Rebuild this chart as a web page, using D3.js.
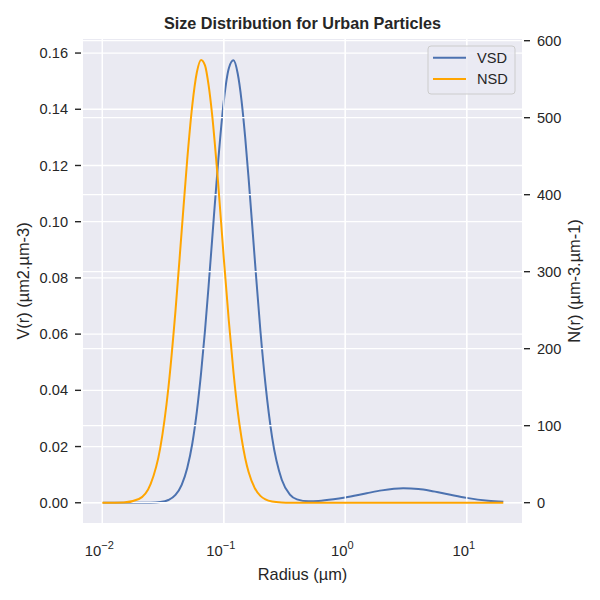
<!DOCTYPE html>
<html>
<head>
<meta charset="utf-8">
<script src="https://cdn.jsdelivr.net/npm/d3@7"></script>
<style>
  body { margin: 0; background: #fff; }
  text { font-family: Arial, "Liberation Sans", sans-serif; fill: #262626; }
</style>
</head>
<body>
<div id="chart"></div>
<script>
// radius (µm) samples and values
const radius = [0.01, 0.015, 0.02, 0.025, 0.03, 0.035, 0.04, 0.045, 0.05, 0.055,
  0.06, 0.065, 0.07, 0.075, 0.08, 0.09, 0.1, 0.11, 0.12, 0.13, 0.14, 0.15, 0.16,
  0.18, 0.2, 0.22, 0.25, 0.3, 0.35, 0.4, 0.5, 0.6, 0.8, 1, 1.5, 2, 3, 4, 5, 7, 10, 15, 20];
const vsd = [0, 0, 0.000003, 0.00004, 0.00025, 0.00098, 0.0028, 0.0064, 0.0124, 0.021,
  0.0325, 0.0462, 0.0613, 0.0773, 0.0932, 0.1218, 0.143, 0.1546, 0.1574, 0.1528, 0.143, 0.1299, 0.1154,
  0.0864, 0.0613, 0.0424, 0.0232, 0.0082, 0.0029, 0.0012, 0.0005, 0.00061, 0.00121, 0.00187, 0.00339, 0.00441, 0.00513, 0.00487, 0.00428, 0.00304, 0.00174, 0.00072, 0.00033];
const nsd = [0, 0.36, 4.8, 24.4, 71.5, 149.6, 249, 353, 446, 516,
  559, 575, 568, 542, 505, 413, 317, 236, 170, 119.6, 83.7, 57.8, 39.8,
  18.8, 8.8, 4.2, 1.4, 0.24, 0, 0, 0, 0, 0, 0, 0, 0, 0, 0, 0, 0, 0, 0, 0];
const xTicks = [0.01, 0.1, 1, 10];
const xTickExp = ["\u22122", "\u22121", "0", "1"];
const vTicks = [0, 0.02, 0.04, 0.06, 0.08, 0.1, 0.12, 0.14, 0.16];
const nTicks = [0, 100, 200, 300, 400, 500, 600];

const width = 600;
const height = 600;
const margin = { left: 83, right: 78, top: 39, bottom: 77 };
const bg = "#eaeaf2";
const blue = "#4c72b0";
const orange = "#ffa500";

let rows = radius.map((r, i) => ({ r: r, v: vsd[i], n: nsd[i] }));

let svg = d3.select("#chart").append("svg")
  .attr("width", width)
  .attr("height", height);

let xScale = d3.scaleLog()
  .domain([0.00693, 28.5])
  .range([margin.left, width - margin.right]);
let yLeft = d3.scaleLinear()
  .domain([-0.0072, 0.165])
  .range([height - margin.bottom, margin.top]);
let yRight = d3.scaleLinear()
  .domain([-26.4, 602.2])
  .range([height - margin.bottom, margin.top]);

const x0 = margin.left, x1 = width - margin.right;
const y0 = height - margin.bottom, y1 = margin.top;

svg.append("rect")
  .attr("x", x0).attr("y", y1)
  .attr("width", x1 - x0).attr("height", y0 - y1)
  .attr("fill", bg);

function grid(g, yScale, yTicks) {
  g.selectAll(".vg").data(xTicks).enter().append("line")
    .attr("x1", d => xScale(d)).attr("x2", d => xScale(d))
    .attr("y1", y0).attr("y2", y1);
  g.selectAll(".hg").data(yTicks).enter().append("line")
    .attr("x1", x0).attr("x2", x1)
    .attr("y1", d => yScale(d)).attr("y2", d => yScale(d));
  g.selectAll("line").attr("stroke", "#fff").attr("stroke-width", 1.3);
}

// left axes: grid then VSD
grid(svg.append("g"), yLeft, vTicks);
svg.append("path")
  .datum(rows)
  .attr("fill", "none")
  .attr("stroke", blue)
  .attr("stroke-width", 2)
  .attr("d", d3.line().curve(d3.curveMonotoneX)
    .x(d => xScale(d.r))
    .y(d => yLeft(d.v)));

// twin axes: its grid sits over the VSD line
grid(svg.append("g"), yRight, nTicks);
svg.append("path")
  .datum(rows)
  .attr("fill", "none")
  .attr("stroke", orange)
  .attr("stroke-width", 2)
  .attr("d", d3.line().curve(d3.curveMonotoneX)
    .x(d => xScale(d.r))
    .y(d => yRight(d.n)));

// left ticks
let lt = svg.append("g").selectAll("g").data(vTicks).enter().append("g")
  .attr("transform", d => `translate(0,${yLeft(d)})`);
lt.append("line").attr("x1", 75).attr("x2", 81)
  .attr("stroke", "#262626").attr("stroke-width", 1.4);
lt.append("text").attr("x", 68).attr("dy", "0.35em")
  .attr("text-anchor", "end").style("font-size", "14.6px")
  .text(d => d3.format(".2f")(d));

// right ticks
let rt = svg.append("g").selectAll("g").data(nTicks).enter().append("g")
  .attr("transform", d => `translate(0,${yRight(d)})`);
rt.append("line").attr("x1", 524).attr("x2", 530)
  .attr("stroke", "#262626").attr("stroke-width", 1.4);
rt.append("text").attr("x", 537).attr("dy", "0.35em")
  .attr("text-anchor", "start").style("font-size", "14.6px")
  .text(d => d);

// x tick labels 10^n
let xt = svg.append("g").selectAll("text").data(xTicks).enter().append("text")
  .attr("x", d => xScale(d) - 3)
  .attr("y", 556)
  .attr("text-anchor", "middle")
  .style("font-size", "14.8px");
xt.append("tspan").text("10");
xt.append("tspan").attr("dy", -7).style("font-size", "11px")
  .text((d, i) => xTickExp[i]);

// labels and title
svg.append("text")
  .attr("x", (x0 + x1) / 2).attr("y", 580)
  .attr("text-anchor", "middle").style("font-size", "16.4px")
  .text("Radius (µm)");
svg.append("text")
  .attr("transform", `translate(29,${(y0 + y1) / 2}) rotate(-90)`)
  .attr("text-anchor", "middle").style("font-size", "16.4px")
  .text("V(r) (µm2.µm-3)");
svg.append("text")
  .attr("transform", `translate(580,${(y0 + y1) / 2}) rotate(-90)`)
  .attr("text-anchor", "middle").style("font-size", "16.4px")
  .text("N(r) (µm-3.µm-1)");
svg.append("text")
  .attr("x", (x0 + x1) / 2).attr("y", 29)
  .attr("text-anchor", "middle").style("font-size", "16.2px")
  .style("font-weight", "bold")
  .text("Size Distribution for Urban Particles");

// legend
let legend = svg.append("g");
legend.append("rect")
  .attr("x", 428).attr("y", 46).attr("width", 87).attr("height", 48)
  .attr("rx", 3)
  .attr("fill", bg).attr("fill-opacity", 0.8)
  .attr("stroke", "#cccccc").attr("stroke-width", 1);
[["VSD", blue], ["NSD", orange]].forEach((d, i) => {
  let yy = 57.7 + i * 21.3;
  legend.append("line").attr("x1", 433).attr("x2", 466)
    .attr("y1", yy).attr("y2", yy)
    .attr("stroke", d[1]).attr("stroke-width", 2);
  legend.append("text").attr("x", 477).attr("y", yy).attr("dy", "0.35em")
    .style("font-size", "14.6px").text(d[0]);
});
</script>
</body>
</html>
